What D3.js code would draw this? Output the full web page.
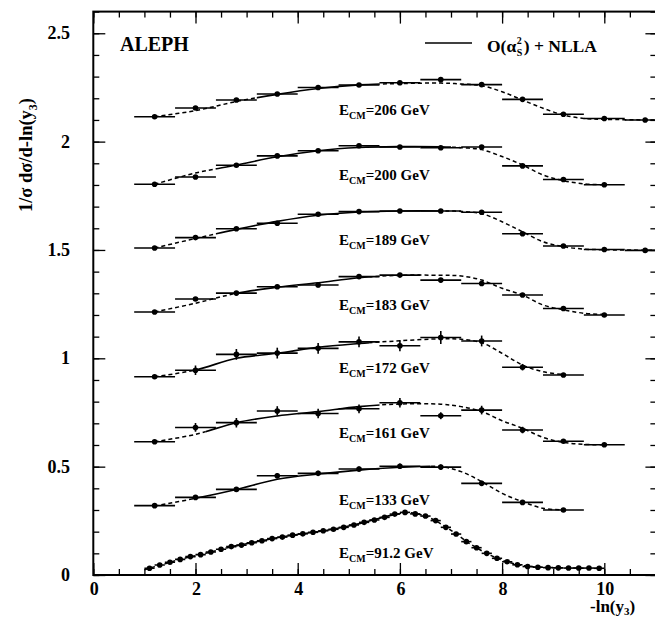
<!DOCTYPE html>
<html>
<head>
<meta charset="utf-8">
<script src="https://cdn.jsdelivr.net/npm/d3@7"></script>
<style>
  body { margin: 0; background: #fff; }
  svg { display: block; }
  text { font-family: "Liberation Serif", "Times New Roman", serif; font-weight: bold; fill: #000; }
</style>
</head>
<body>
<svg id="chart" width="655" height="618"></svg>
<script>
// tick labels
const xTicks = [0, 2, 4, 6, 8, 10];
const yTicks = [0, 0.5, 1, 1.5, 2, 2.5];

// energies, bottom to top
const energies = ["91.2", "133", "161", "172", "183", "189", "200", "206"];

// bin centres of -ln(y3) for the high energy data (bins are 0.8 wide)
const binCentres = [1.2, 2.0, 2.8, 3.6, 4.4, 5.2, 6.0, 6.8, 7.6, 8.4, 9.2, 10.0, 10.8];
// LEP1 bins are 0.2 wide
const binCentres91 = [1.1, 1.3, 1.5, 1.7, 1.9, 2.1, 2.3, 2.5, 2.7, 2.9, 3.1, 3.3, 3.5, 3.7, 3.9,
  4.1, 4.3, 4.5, 4.7, 4.9, 5.1, 5.3, 5.5, 5.7, 5.9, 6.1, 6.3, 6.5, 6.7, 6.9, 7.1, 7.3, 7.5,
  7.7, 7.9, 8.1, 8.3, 8.5, 8.7, 8.9, 9.1, 9.3, 9.5, 9.7, 9.9];

// measured values (already shifted by 0.3 per energy, as on the plot)
const data91 = [0.031, 0.046, 0.059, 0.072, 0.085, 0.094, 0.106, 0.119, 0.131, 0.138, 0.149,
  0.158, 0.168, 0.175, 0.184, 0.190, 0.197, 0.204, 0.211, 0.220, 0.231, 0.243, 0.254, 0.266,
  0.281, 0.289, 0.282, 0.272, 0.251, 0.220, 0.189, 0.154, 0.126, 0.100, 0.077, 0.061, 0.047,
  0.039, 0.036, 0.034, 0.033, 0.032, 0.032, 0.032, 0.031];
const data133 = [0.320, 0.358, 0.395, 0.458, 0.469, 0.489, 0.502, 0.498, 0.423, 0.335, 0.300];
const data161 = [0.615, 0.681, 0.703, 0.757, 0.745, 0.767, 0.795, 0.735, 0.761, 0.669, 0.617, 0.601];
const data172 = [0.915, 0.945, 1.018, 1.024, 1.046, 1.076, 1.058, 1.096, 1.080, 0.959, 0.923];
const data183 = [1.214, 1.274, 1.301, 1.330, 1.338, 1.377, 1.384, 1.361, 1.345, 1.292, 1.230, 1.200];
const data189 = [1.509, 1.557, 1.598, 1.623, 1.665, 1.677, 1.680, 1.680, 1.674, 1.575, 1.518, 1.502, 1.498];
const data200 = [1.803, 1.837, 1.891, 1.934, 1.958, 1.981, 1.975, 1.972, 1.975, 1.888, 1.825, 1.801];
const data206 = [2.115, 2.155, 2.192, 2.220, 2.250, 2.261, 2.272, 2.286, 2.263, 2.195, 2.126, 2.107, 2.100];

// statistical errors
const err133 = [0.004, 0.008, 0.010, 0.012, 0.012, 0.012, 0.012, 0.012, 0.012, 0.008, 0.005];
const err161 = [0.006, 0.020, 0.022, 0.022, 0.022, 0.020, 0.022, 0.016, 0.020, 0.015, 0.008, 0.005];
const err172 = [0.006, 0.022, 0.025, 0.025, 0.025, 0.025, 0.025, 0.030, 0.025, 0.015, 0.008];
const err183 = [0.004, 0.008, 0.010, 0.010, 0.010, 0.010, 0.010, 0.010, 0.010, 0.008, 0.005, 0.004];
const err189 = [0.003, 0.005, 0.006, 0.006, 0.006, 0.006, 0.006, 0.006, 0.006, 0.005, 0.004, 0.003, 0.003];
const err200 = [0.003, 0.006, 0.007, 0.007, 0.007, 0.007, 0.007, 0.007, 0.007, 0.006, 0.004, 0.003];
const err206 = [0.003, 0.006, 0.007, 0.007, 0.007, 0.007, 0.007, 0.007, 0.007, 0.006, 0.004, 0.003, 0.003];

// O(as2)+NLLA prediction
const theoryX = [1.2, 2.0, 2.8, 3.6, 4.4, 5.2, 6.0, 6.8, 7.2, 7.6, 8.0, 8.4, 8.8, 9.2, 9.6, 10.0, 10.8, 11.0];
const theoryX91 = [1.0, 1.4, 1.8, 2.2, 2.6, 3.0, 3.4, 3.8, 4.2, 4.6, 5.0, 5.4, 5.8, 6.1, 6.3, 6.6,
  7.0, 7.4, 7.8, 8.2, 8.6, 9.0, 9.4, 9.9];
const theory91 = [0.024, 0.052, 0.078, 0.100, 0.125, 0.144, 0.163, 0.180, 0.194, 0.208, 0.226,
  0.249, 0.274, 0.287, 0.284, 0.262, 0.206, 0.140, 0.088, 0.054, 0.038, 0.034, 0.032, 0.031];
const theory133 = [0.318, 0.354, 0.395, 0.442, 0.466, 0.484, 0.497, 0.500, 0.477, 0.431, 0.377, 0.338, 0.308, 0.300];
const theory161 = [0.615, 0.649, 0.703, 0.734, 0.754, 0.777, 0.789, 0.788, 0.777, 0.754, 0.712, 0.677, 0.635, 0.612, 0.603, 0.601];
const theory172 = [0.915, 0.946, 1.000, 1.023, 1.051, 1.068, 1.081, 1.090, 1.088, 1.072, 1.023, 0.969, 0.938, 0.925];
const theory183 = [1.214, 1.254, 1.300, 1.328, 1.349, 1.372, 1.383, 1.383, 1.380, 1.361, 1.323, 1.292, 1.246, 1.224, 1.208, 1.202];
const theory189 = [1.509, 1.553, 1.595, 1.632, 1.660, 1.675, 1.680, 1.680, 1.678, 1.668, 1.630, 1.584, 1.538, 1.515, 1.504, 1.501, 1.499, 1.499];
const theory200 = [1.803, 1.855, 1.892, 1.930, 1.958, 1.973, 1.977, 1.976, 1.972, 1.963, 1.931, 1.892, 1.846, 1.820, 1.805, 1.801];
const theory206 = [2.115, 2.143, 2.185, 2.218, 2.245, 2.262, 2.268, 2.270, 2.266, 2.258, 2.230, 2.192, 2.154, 2.123, 2.107, 2.103, 2.100, 2.100];

// fit range (solid part of the curve)
const fitLo = [2.6, 2.0, 2.2, 2.0, 2.8, 2.4, 2.4, 3.2];
const fitHi = [6.0, 6.6, 5.6, 5.4, 5.4, 6.8, 7.0, 5.6];

// label placement in data coordinates
const labelX = 4.81;
const labelY = [0.077, 0.323, 0.631, 0.931, 1.223, 1.523, 1.823, 2.123];

const series = [
  { xs: binCentres91, vals: data91, errs: null, halfBin: 0.1, thX: theoryX91, th: theory91 },
  { xs: binCentres, vals: data133, errs: err133, halfBin: 0.4, thX: theoryX, th: theory133 },
  { xs: binCentres, vals: data161, errs: err161, halfBin: 0.4, thX: theoryX, th: theory161 },
  { xs: binCentres, vals: data172, errs: err172, halfBin: 0.4, thX: theoryX, th: theory172 },
  { xs: binCentres, vals: data183, errs: err183, halfBin: 0.4, thX: theoryX, th: theory183 },
  { xs: binCentres, vals: data189, errs: err189, halfBin: 0.4, thX: theoryX, th: theory189 },
  { xs: binCentres, vals: data200, errs: err200, halfBin: 0.4, thX: theoryX, th: theory200 },
  { xs: binCentres, vals: data206, errs: err206, halfBin: 0.4, thX: theoryX, th: theory206 }
];

const svg = d3.select("#chart");

const plotLeft = 93.3, plotRight = 655.4, plotTop = 11.6, plotBottom = 575;
const x = d3.scaleLinear().domain([0, 11]).range([plotLeft, plotRight]);
const y = d3.scaleLinear().domain([0, 2.6]).range([plotBottom, plotTop]);
const plotW = plotRight - plotLeft, plotH = plotBottom - plotTop;

// clip for the plotting area
const defs = svg.append("defs");
defs.append("clipPath").attr("id", "plotArea")
  .append("rect").attr("x", plotLeft).attr("y", plotTop)
  .attr("width", plotW).attr("height", plotH);

// ---- theory curves ----
const curveLine = d3.line()
  .x((d) => x(d[0]))
  .y((d) => y(d[1]))
  .curve(d3.curveCatmullRom.alpha(0.5));

const curves = svg.append("g").attr("clip-path", "url(#plotArea)");

series.forEach((s, i) => {
  let pts = s.th.map((v, j) => [s.thX[j], v]);

  // solid inside fit range, dashed outside
  defs.append("clipPath").attr("id", `fitIn${i}`)
    .append("rect")
    .attr("x", x(fitLo[i])).attr("y", plotTop)
    .attr("width", x(fitHi[i]) - x(fitLo[i])).attr("height", plotH);

  let outside = defs.append("clipPath").attr("id", `fitOut${i}`);
  outside.append("rect")
    .attr("x", plotLeft).attr("y", plotTop)
    .attr("width", x(fitLo[i]) - plotLeft).attr("height", plotH);
  outside.append("rect")
    .attr("x", x(fitHi[i])).attr("y", plotTop)
    .attr("width", plotRight - x(fitHi[i])).attr("height", plotH);

  curves.append("g").attr("clip-path", `url(#fitIn${i})`)
    .append("path")
    .datum(pts)
    .attr("d", curveLine)
    .attr("fill", "none")
    .attr("stroke", "#000")
    .attr("stroke-width", 1.6);

  curves.append("g").attr("clip-path", `url(#fitOut${i})`)
    .append("path")
    .datum(pts)
    .attr("d", curveLine)
    .attr("fill", "none")
    .attr("stroke", "#000")
    .attr("stroke-width", 1.5)
    .attr("stroke-dasharray", "4,3");
});

// ---- data points ----
const points = svg.append("g").attr("clip-path", "url(#plotArea)");

series.forEach((s) => {
  let rows = s.vals.map((v, j) => ({ x: s.xs[j], v: v, e: s.errs ? s.errs[j] : 0 }));
  let g = points.append("g");

  g.selectAll("line.hbar")
    .data(rows)
    .join("line")
    .attr("class", "hbar")
    .attr("x1", (d) => x(d.x - s.halfBin))
    .attr("x2", (d) => x(d.x + s.halfBin))
    .attr("y1", (d) => y(d.v))
    .attr("y2", (d) => y(d.v))
    .attr("stroke", "#000")
    .attr("stroke-width", 1.6);

  g.selectAll("line.vbar")
    .data(rows.filter((d) => d.e > 0))
    .join("line")
    .attr("class", "vbar")
    .attr("x1", (d) => x(d.x))
    .attr("x2", (d) => x(d.x))
    .attr("y1", (d) => y(d.v - d.e))
    .attr("y2", (d) => y(d.v + d.e))
    .attr("stroke", "#000")
    .attr("stroke-width", 1.6);

  g.selectAll("circle")
    .data(rows)
    .join("circle")
    .attr("cx", (d) => x(d.x))
    .attr("cy", (d) => y(d.v))
    .attr("r", 2.8)
    .attr("fill", "#000");
});

// ---- energy labels ----
energies.forEach((e, i) => {
  let t = svg.append("text")
    .attr("x", x(labelX))
    .attr("y", y(labelY[i]))
    .style("font-size", "15px");
  t.append("tspan").text("E");
  t.append("tspan").attr("dy", 4).style("font-size", "10px").text("CM");
  t.append("tspan").attr("dy", -4).text(`=${e} GeV`);
});

// ---- axes: inward ticks on all four sides ----
const majorLen = 12, minorLen = 6;

function tickAxis(axis, tx, ty, values, len) {
  svg.append("g")
    .attr("transform", `translate(${tx},${ty})`)
    .call(axis.tickValues(values).tickSize(-len).tickFormat(""))
    .call((g) => g.select(".domain").remove());
}

tickAxis(d3.axisLeft(y), plotLeft, 0, y.ticks(26), minorLen);
tickAxis(d3.axisLeft(y), plotLeft, 0, yTicks, majorLen);
tickAxis(d3.axisRight(y), plotRight, 0, y.ticks(26), minorLen - 1);
tickAxis(d3.axisRight(y), plotRight, 0, yTicks, majorLen - 2);
tickAxis(d3.axisBottom(x), 0, plotBottom, x.ticks(22), minorLen);
tickAxis(d3.axisBottom(x), 0, plotBottom, xTicks, majorLen);
tickAxis(d3.axisTop(x), 0, plotTop, x.ticks(22), minorLen);
tickAxis(d3.axisTop(x), 0, plotTop, xTicks, majorLen);

svg.selectAll(".tick line").attr("stroke", "#000").attr("stroke-width", 1.3);

// frame (right side runs off the picture)
svg.append("rect")
  .attr("x", plotLeft).attr("y", plotTop)
  .attr("width", plotW + 4).attr("height", plotH)
  .attr("fill", "none")
  .attr("stroke", "#000")
  .attr("stroke-width", 2);

// tick labels
svg.selectAll("text.xlab")
  .data(xTicks)
  .join("text")
  .attr("class", "xlab")
  .attr("x", (d) => x(d) + 1)
  .attr("y", 595)
  .attr("text-anchor", "middle")
  .style("font-size", "18px")
  .text((d) => d);

svg.selectAll("text.ylab")
  .data(yTicks)
  .join("text")
  .attr("class", "ylab")
  .attr("x", 70)
  .attr("y", (d) => y(d) + 6)
  .attr("text-anchor", "end")
  .style("font-size", "18px")
  .text((d) => d);

// axis titles
let xt = svg.append("text")
  .attr("x", 590)
  .attr("y", 612)
  .style("font-size", "17px");
xt.append("tspan").text("-ln(y");
xt.append("tspan").attr("dy", 3).style("font-size", "11px").text("3");
xt.append("tspan").attr("dy", -3).text(")");

let yt = svg.append("text")
  .attr("transform", "translate(32,155) rotate(-90)")
  .attr("text-anchor", "middle")
  .style("font-size", "18.5px");
yt.append("tspan").text("1/σ dσ/d-ln(y");
yt.append("tspan").attr("dy", 5).style("font-size", "12px").text("3");
yt.append("tspan").attr("dy", -5).text(")");

// experiment name
svg.append("text")
  .attr("x", 120)
  .attr("y", 51)
  .style("font-size", "20px")
  .text("ALEPH");

// legend
svg.append("line")
  .attr("x1", 425).attr("x2", 472)
  .attr("y1", 43).attr("y2", 43)
  .attr("stroke", "#000")
  .attr("stroke-width", 1.6);

let leg1 = svg.append("text")
  .attr("x", 487).attr("y", 52)
  .style("font-size", "17.5px")
  .text("O(α");
let w1 = leg1.node().getComputedTextLength();
svg.append("text")
  .attr("x", 487 + w1 + 0.5).attr("y", 44)
  .style("font-size", "10px")
  .text("2");
svg.append("text")
  .attr("x", 487 + w1 + 0.5).attr("y", 56)
  .style("font-size", "10px")
  .text("S");
svg.append("text")
  .attr("x", 487 + w1 + 7.5).attr("y", 52)
  .style("font-size", "17.5px")
  .text(") + NLLA");
</script>
</body>
</html>
